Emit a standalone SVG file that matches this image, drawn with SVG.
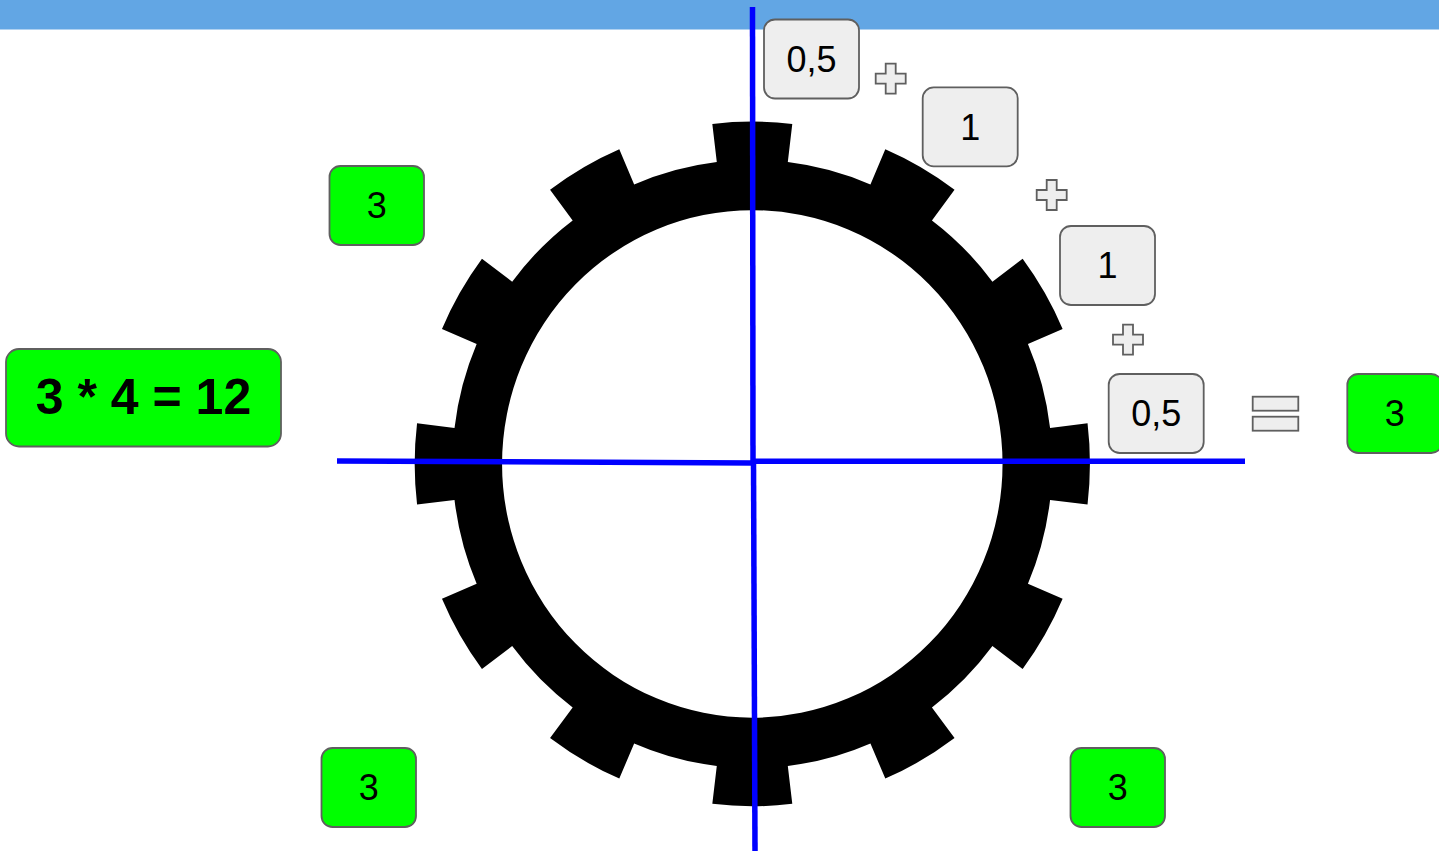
<svg xmlns="http://www.w3.org/2000/svg" width="1439" height="851" viewBox="0 0 1439 851">
<style>
.gray{fill:#eeeeee;stroke:#5f5f5f;stroke-width:1.8}
.green{fill:#00ff00;stroke:#5f5f5f;stroke-width:1.8}
.t{font-family:"Liberation Sans",Arial,sans-serif;font-size:36px;fill:#000;text-anchor:middle}
.big{font-family:"Liberation Sans",Arial,sans-serif;font-size:50px;font-weight:bold;fill:#000;text-anchor:middle}
.axis{stroke:#0000ff;stroke-width:5.5;fill:none}
</style>
<defs>
<path id="plus" d="M-5,-15H5V-5H15V5H5V15H-5V5H-15V-5H-5Z"/>
</defs>
<rect x="0" y="0" width="1439" height="851" fill="#ffffff"/>
<rect id="topbar" x="0" y="0" width="1439" height="29.5" fill="#62a6e4"/>
<g id="gear">
<path transform="translate(752.3,463.9) scale(0.993,1.007)" fill="#000" fill-rule="evenodd" d="M -35.76,-299.88 L -40.26,-337.61 A 340 340 0 0 1 40.26,-337.61 L 35.76,-299.88 A 302 302 0 0 1 118.97,-277.58 L 133.94,-312.51 A 340 340 0 0 1 203.67,-272.25 L 180.90,-241.82 A 302 302 0 0 1 241.82,-180.90 L 272.25,-203.67 A 340 340 0 0 1 312.51,-133.94 L 277.58,-118.97 A 302 302 0 0 1 299.88,-35.76 L 337.61,-40.26 A 340 340 0 0 1 337.61,40.26 L 299.88,35.76 A 302 302 0 0 1 277.58,118.97 L 312.51,133.94 A 340 340 0 0 1 272.25,203.67 L 241.82,180.90 A 302 302 0 0 1 180.90,241.82 L 203.67,272.25 A 340 340 0 0 1 133.94,312.51 L 118.97,277.58 A 302 302 0 0 1 35.76,299.88 L 40.26,337.61 A 340 340 0 0 1 -40.26,337.61 L -35.76,299.88 A 302 302 0 0 1 -118.97,277.58 L -133.94,312.51 A 340 340 0 0 1 -203.67,272.25 L -180.90,241.82 A 302 302 0 0 1 -241.82,180.90 L -272.25,203.67 A 340 340 0 0 1 -312.51,133.94 L -277.58,118.97 A 302 302 0 0 1 -299.88,35.76 L -337.61,40.26 A 340 340 0 0 1 -337.61,-40.26 L -299.88,-35.76 A 302 302 0 0 1 -277.58,-118.97 L -312.51,-133.94 A 340 340 0 0 1 -272.25,-203.67 L -241.82,-180.90 A 302 302 0 0 1 -180.90,-241.82 L -203.67,-272.25 A 340 340 0 0 1 -133.94,-312.51 L -118.97,-277.58 A 302 302 0 0 1 -35.76,-299.88 Z M 0,-252 A 252 252 0 1 0 0,252 A 252 252 0 1 0 0,-252 Z"/>
</g>
<g id="connectors">
<line class="axis" x1="337" y1="461" x2="753" y2="463"/>
<line class="axis" x1="753" y1="461.3" x2="1245" y2="461.3"/>
<line class="axis" x1="752.5" y1="7" x2="753" y2="463"/>
<line class="axis" x1="753.5" y1="461" x2="755" y2="851"/>
</g>
<g id="formula">
<rect class="green" x="6" y="349" width="275" height="97.5" rx="13"/>
<text class="big" x="143.5" y="414">3 * 4 = 12</text>
</g>
<g id="green-tl">
<rect class="green" x="329.5" y="166" width="94.5" height="79" rx="11"/>
<text class="t" x="376.8" y="218.4">3</text>
</g>
<g id="green-bl">
<rect class="green" x="321.5" y="748" width="94.5" height="79" rx="11"/>
<text class="t" x="368.8" y="800.4">3</text>
</g>
<g id="green-br">
<rect class="green" x="1070.5" y="748" width="94.5" height="79" rx="11"/>
<text class="t" x="1117.8" y="800.4">3</text>
</g>
<g id="half-top">
<rect class="gray" x="764" y="19.5" width="95" height="79" rx="11"/>
<text class="t" x="811.5" y="71.9">0,5</text>
</g>
<g id="plus-1"><use href="#plus" class="gray" transform="translate(890.7,78.7)"/></g>
<g id="one-a">
<rect class="gray" x="922.7" y="87.3" width="95" height="79" rx="11"/>
<text class="t" x="970.2" y="139.7">1</text>
</g>
<g id="plus-2"><use href="#plus" class="gray" transform="translate(1051.7,195)"/></g>
<g id="one-b">
<rect class="gray" x="1060" y="226" width="95" height="79" rx="11"/>
<text class="t" x="1107.5" y="278.4">1</text>
</g>
<g id="plus-3"><use href="#plus" class="gray" transform="translate(1128,339.7)"/></g>
<g id="half-right">
<rect class="gray" x="1108.7" y="374" width="95" height="79" rx="11"/>
<text class="t" x="1156.2" y="426.4">0,5</text>
</g>
<g id="equals">
<rect class="gray" x="1252.7" y="396.7" width="45.6" height="14"/>
<rect class="gray" x="1252.7" y="416.7" width="45.6" height="14"/>
</g>
<g id="green-result">
<rect class="green" x="1347.3" y="374" width="95" height="79" rx="11"/>
<text class="t" x="1394.8" y="426.4">3</text>
</g>
</svg>
